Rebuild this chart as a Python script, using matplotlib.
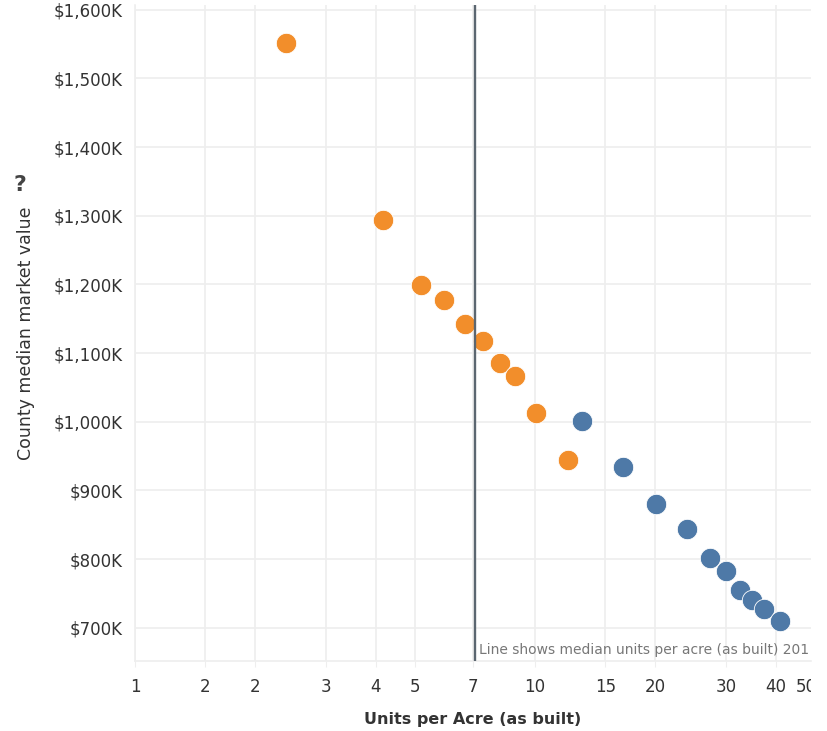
import matplotlib
matplotlib.use("Agg")
import matplotlib.pyplot as plt
from matplotlib.ticker import FixedLocator, FuncFormatter, NullLocator
from matplotlib.transforms import Bbox, blended_transform_factory, offset_copy

# ---- data ----
units_per_acre_orange = [2.39, 4.18, 5.19, 5.92, 6.68, 7.41, 8.19, 8.93, 10.04, 12.12]
value_k_orange = [1551, 1293, 1199, 1177, 1142, 1117, 1086, 1067, 1013, 944]
units_per_acre_blue = [13.09, 16.64, 20.08, 24.01, 27.32, 30.0, 32.53, 34.85, 37.35, 40.9]
value_k_blue = [1001, 934, 880, 844, 802, 782, 755, 741, 727, 710]
median_units = 7.09
x_ticks = [1, 1.5, 2, 3, 4, 5, 7, 10, 15, 20, 30, 40]
x_tick_labels = ["1", "2", "2", "3", "4", "5", "7", "10", "15", "20", "30", "40"]
x_last_tick = 50
x_last_label = "50"
y_ticks = [700, 800, 900, 1000, 1100, 1200, 1300, 1400, 1500, 1600]

ORANGE = "#F28E2B"
BLUE = "#4E79A7"
GRID = "#EEEEEE"
TXT = "#333333"

plt.rcParams['font.family'] = ['DejaVu Sans']

W, H = 827, 731
fig = plt.figure(figsize=(W / 100, H / 100), dpi=100)
L, R, T, B = 135, 811, 5, 661
ax = fig.add_axes([L / W, 1 - B / H, (R - L) / W, (B - T) / H])

ax.set_xscale('log')
ax.set_xlim(1, 48.97)
ax.set_ylim(651.5, 1606.8)

ax.xaxis.set_major_locator(FixedLocator(x_ticks))
ax.xaxis.set_minor_locator(NullLocator())
ax.set_xticklabels(x_tick_labels)
ax.yaxis.set_major_locator(FixedLocator(y_ticks))
ax.yaxis.set_major_formatter(FuncFormatter(lambda v, p: "${:,.0f}K".format(v)))

ax.grid(True, color=GRID, linewidth=1.2, zorder=0)
ax.set_axisbelow(True)
for s in ['top', 'right']:
    ax.spines[s].set_visible(False)
for s in ['left', 'bottom']:
    ax.spines[s].set_color(GRID)
    ax.spines[s].set_linewidth(1.2)

ax.tick_params(axis='x', length=4, color=GRID, pad=8, labelsize=12, labelcolor=TXT)
ax.tick_params(axis='y', length=0, pad=9, labelsize=12, labelcolor=TXT)

# last x tick label, cut at the plot's right edge like the original
trans = blended_transform_factory(ax.transData, ax.transAxes)
t50 = ax.text(x_last_tick, 0, x_last_label, fontsize=12, color=TXT,
              ha='center', va='top', clip_on=True,
              transform=offset_copy(trans, fig=fig, x=-8, y=-16.7, units='dots'))
t50.set_clip_box(Bbox([[0, 0], [R, H]]))

ax.scatter(units_per_acre_orange, value_k_orange, s=215, color=ORANGE,
           edgecolors='white', linewidths=0.6, zorder=3)
ax.scatter(units_per_acre_blue, value_k_blue, s=215, color=BLUE,
           edgecolors='white', linewidths=0.6, zorder=3)

ax.axvline(median_units, color="#5B6670", linewidth=1.7, zorder=4)
ax.annotate("Line shows median units per acre (as built) 201",
            xy=(median_units, 0), xycoords=('data', 'axes fraction'),
            xytext=(3, 3), textcoords='offset points',
            ha='left', va='bottom', fontsize=10, color="#777777",
            annotation_clip=False)

ax.set_xlabel("Units per Acre (as built)", fontsize=11.5, fontweight='bold',
              color=TXT, labelpad=12)
ax.set_ylabel("County median market value", fontsize=12.5, color=TXT)
ax.yaxis.set_label_coords((35 - L) / (R - L), 0.5)

fig.text(20 / W, 1 - 185 / H, "?", fontsize=16, fontweight='bold', color="#444444",
         ha='center', va='center')

fig.savefig("out.png", dpi=100, facecolor='white')
